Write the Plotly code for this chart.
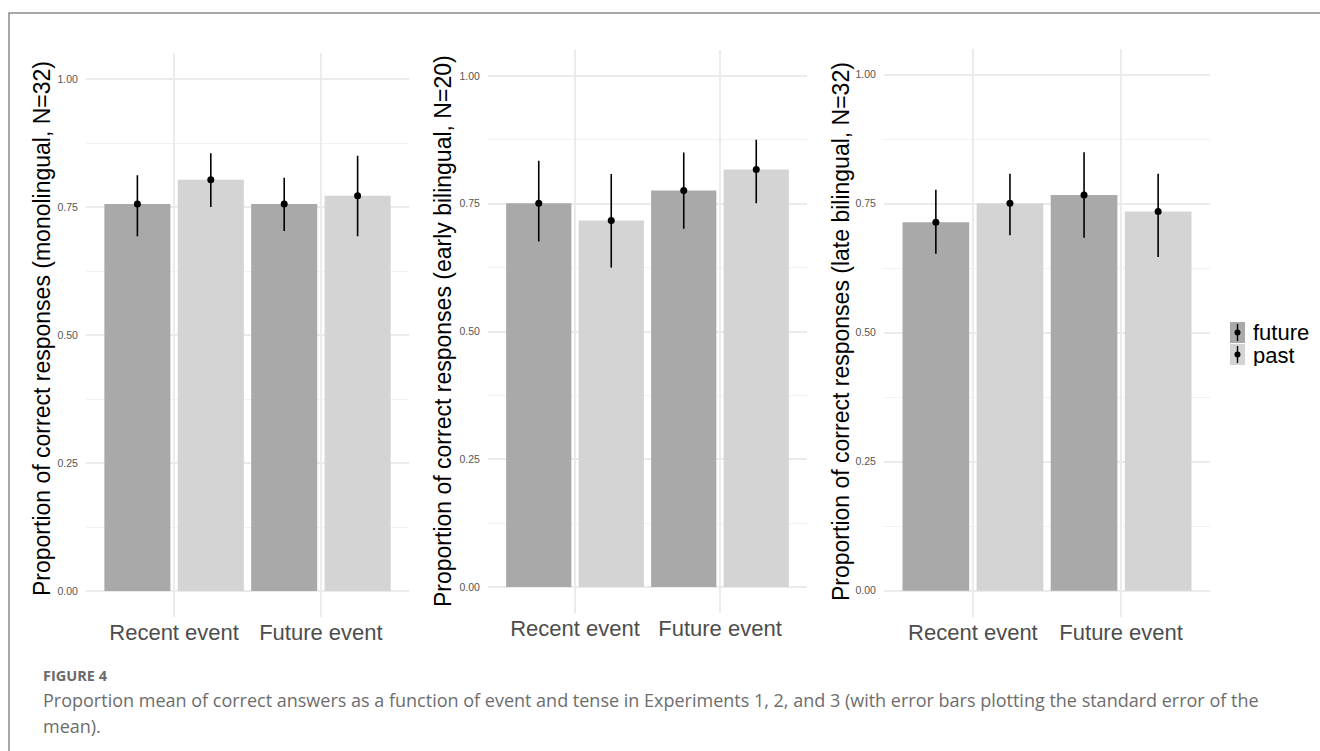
import plotly.graph_objects as go

# ---------------- data ----------------
categories = ["Recent event", "Future event"]
tenses = ["future", "past"]
panel_titles = [
    "Proportion of correct responses (monolingual, N=32)",
    "Proportion of correct responses (early bilingual, N=20)",
    "Proportion of correct responses (late bilingual, N=32)",
]

# Experiment 1 (monolingual)
mono_future_mean = [0.756, 0.756]
mono_future_lo = [0.693, 0.703]
mono_future_hi = [0.812, 0.807]
mono_past_mean = [0.803, 0.772]
mono_past_lo = [0.750, 0.693]
mono_past_hi = [0.855, 0.850]

# Experiment 2 (early bilingual)
early_future_mean = [0.751, 0.776]
early_future_lo = [0.676, 0.701]
early_future_hi = [0.834, 0.850]
early_past_mean = [0.717, 0.817]
early_past_lo = [0.625, 0.751]
early_past_hi = [0.808, 0.875]

# Experiment 3 (late bilingual)
late_future_mean = [0.714, 0.767]
late_future_lo = [0.653, 0.684]
late_future_hi = [0.777, 0.850]
late_past_mean = [0.751, 0.735]
late_past_lo = [0.689, 0.647]
late_past_hi = [0.808, 0.808]

y_tick_values = [0, 0.25, 0.5, 0.75, 1.0]
y_tick_labels = ["0.00", "0.25", "0.50", "0.75", "1.00"]

caption_head = "FIGURE 4"
caption_line1 = ("Proportion mean of correct answers as a function of event and tense in "
                 "Experiments 1, 2, and 3 (with error bars plotting the standard error of the")
caption_line2 = "mean)."

# ---------------- styling / layout ----------------
W, H = 1320, 751
FILL = {"future": "#a9a9a9", "past": "#d4d4d4"}
FONT = "Liberation Sans, Arial, Helvetica, sans-serif"


def px(x):
    return x / W


def py(y):
    return 1 - y / H


panels = [
    dict(data={"future": (mono_future_mean, mono_future_lo, mono_future_hi),
               "past": (mono_past_mean, mono_past_lo, mono_past_hi)},
         xdom=(86, 409), ydom=(616.6, 53.4), title_x=42, title_y=329),
    dict(data={"future": (early_future_mean, early_future_lo, early_future_hi),
               "past": (early_past_mean, early_past_lo, early_past_hi)},
         xdom=(488, 807), ydom=(612.6, 50.4), title_x=443, title_y=331),
    dict(data={"future": (late_future_mean, late_future_lo, late_future_hi),
               "past": (late_past_mean, late_past_lo, late_past_hi)},
         xdom=(884, 1210), ydom=(616.5, 49.0), title_x=841, title_y=332),
]

fig = go.Figure()
layout_axes = {}
annotations = []
shapes = []

for i, p in enumerate(panels):
    n = "" if i == 0 else str(i + 1)
    xa, ya = "x" + n, "y" + n
    for t in tenses:
        mean, lo, hi = p["data"][t]
        fig.add_trace(go.Bar(
            x=categories, y=mean, name=t, xaxis=xa, yaxis=ya,
            offsetgroup=t, alignmentgroup="g" + str(i),
            marker=dict(color=FILL[t], line=dict(width=0)),
            showlegend=False, hoverinfo="skip",
        ))
    for t in tenses:
        mean, lo, hi = p["data"][t]
        fig.add_trace(go.Scatter(
            x=categories, y=mean, xaxis=xa, yaxis=ya, mode="markers", name=t,
            offsetgroup=t, alignmentgroup="g" + str(i),
            marker=dict(color="black", size=7),
            error_y=dict(type="data", symmetric=False,
                         array=[h - m for h, m in zip(hi, mean)],
                         arrayminus=[m - l for m, l in zip(mean, lo)],
                         color="black", thickness=1.6, width=0),
            showlegend=False, hoverinfo="skip",
        ))
    layout_axes["xaxis" + n] = dict(
        domain=[px(p["xdom"][0]), px(p["xdom"][1])], anchor=ya,
        type="category", range=[-0.6, 1.6],
        showgrid=True, gridcolor="#ebebeb", gridwidth=1.5,
        zeroline=False, showline=False,
        ticks="", ticklabelstandoff=0,
        tickfont=dict(family=FONT, size=22, color="#4d4d4d"),
    )
    layout_axes["yaxis" + n] = dict(
        domain=[py(p["ydom"][0]), py(p["ydom"][1])], anchor=xa,
        range=[-0.05, 1.05], tickvals=y_tick_values, ticktext=y_tick_labels,
        showgrid=True, gridcolor="#ebebeb", gridwidth=1.5,
        minor=dict(dtick=0.125, tick0=0, showgrid=True, gridcolor="#f1f1f1", gridwidth=0.8),
        zeroline=False, showline=False,
        ticks="outside", ticklen=5, tickcolor="rgba(0,0,0,0)",
        tickfont=dict(family=FONT, size=10.5, color="#555555"),
    )
    annotations.append(dict(
        text=panel_titles[i], xref="paper", yref="paper",
        x=px(p["title_x"]), y=py(p["title_y"]), xanchor="center", yanchor="middle",
        textangle=-90, showarrow=False,
        font=dict(family=FONT, size=23, color="black"),
    ))

# legend (ggplot-style keys: grey tile with point + error line)
key_x0, key_x1 = 1230, 1245
key_tops = [322, 344]
key_h = 21
label_centers = [332, 355]
for t, top, lc in zip(tenses, key_tops, label_centers):
    cx = (key_x0 + key_x1) / 2
    cy = top + key_h / 2
    shapes.append(dict(type="rect", xref="paper", yref="paper",
                       x0=px(key_x0), x1=px(key_x1), y0=py(top + key_h), y1=py(top),
                       fillcolor=FILL[t], line=dict(width=0)))
    shapes.append(dict(type="line", xref="paper", yref="paper",
                       x0=px(cx), x1=px(cx), y0=py(top + key_h - 2), y1=py(top + 2),
                       line=dict(color="black", width=1.4)))
    shapes.append(dict(type="circle", xref="paper", yref="paper",
                       x0=px(cx - 3), x1=px(cx + 3), y0=py(cy + 3), y1=py(cy - 3),
                       fillcolor="black", line=dict(width=0)))
    annotations.append(dict(text=t, xref="paper", yref="paper",
                            x=px(1251), y=py(lc), xanchor="left", yanchor="middle",
                            height=22, valign="middle", showarrow=False,
                            font=dict(family=FONT, size=22, color="black")))

CAP_FONT = "Open Sans, Lato, sans-serif"
annotations += [
    dict(text="<b>" + caption_head + "</b>", xref="paper", yref="paper",
         x=px(41), y=py(675), xanchor="left", yanchor="middle", showarrow=False,
         font=dict(family=CAP_FONT, size=14.5, color="#6a6a6a")),
    dict(text=caption_line1, xref="paper", yref="paper",
         x=px(41), y=py(700), xanchor="left", yanchor="middle", showarrow=False,
         font=dict(family=CAP_FONT, size=18, color="#6d6d6d")),
    dict(text=caption_line2, xref="paper", yref="paper",
         x=px(41), y=py(726), xanchor="left", yanchor="middle", showarrow=False,
         font=dict(family=CAP_FONT, size=18, color="#6d6d6d")),
]

shapes.append(dict(type="rect", xref="paper", yref="paper",
                   x0=px(9), x1=1.02, y0=-0.02, y1=py(13),
                   line=dict(color="#8a8a8a", width=1.5), layer="below"))

fig.update_layout(
    width=W, height=H, margin=dict(l=0, r=0, t=0, b=0),
    paper_bgcolor="white", plot_bgcolor="white",
    barmode="group", bargap=0.0, bargroupgap=0.1,
    scattermode="group", scattergap=0.0,
    showlegend=False,
    annotations=annotations,
    shapes=shapes,
    **layout_axes,
)

fig.write_html(
    "out.html",
    config={"displayModeBar": False},
    post_script="document.body.style.margin='0';document.body.style.overflow='hidden';",
)
